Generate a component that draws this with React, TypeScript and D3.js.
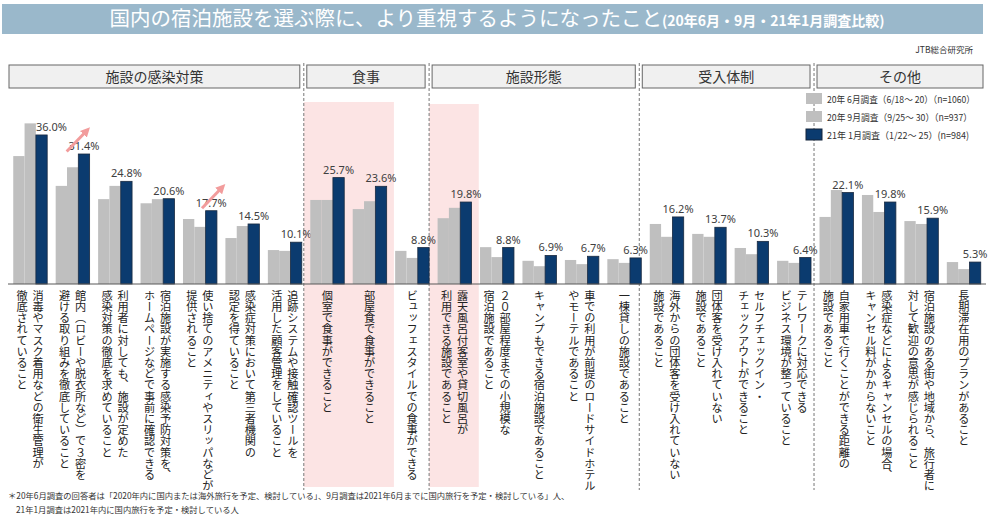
import * as d3 from "d3";

// 23 items, each label split into its vertical columns (right to left)
const categories: string[][] = [
  ["消毒やマスク着用などの衛生管理が", "徹底されていること"],
  ["館内（ロビーや脱衣所など）で３密を", "避ける取り組みを徹底していること"],
  ["利用者に対しても、施設が定めた", "感染対策の徹底を求めていること"],
  ["宿泊施設が実施する感染予防対策を、", "ホームページなどで事前に確認できる"],
  ["使い捨てのアメニティやスリッパなどが", "提供されること"],
  ["感染症対策において第三者機関の", "認定を得ていること"],
  ["追跡システムや接触確認ツールを", "活用した顧客管理をしていること"],
  ["個室で食事ができること"],
  ["部屋食で食事ができること"],
  ["ビュッフェスタイルでの食事ができる"],
  ["露天風呂付客室や貸切風呂が", "利用できる施設であること"],
  ["２０部屋程度までの小規模な", "宿泊施設であること"],
  ["キャンプもできる宿泊施設であること"],
  ["車での利用が前提のロードサイドホテル", "やモーテルであること"],
  ["一棟貸しの施設であること"],
  ["海外からの団体客を受け入れていない", "施設であること"],
  ["団体客を受け入れていない", "施設であること"],
  ["セルフチェックイン・", "チェックアウトができること"],
  ["テレワークに対応できる", "ビジネス環境が整っていること"],
  ["自家用車で行くことができる距離の", "施設であること"],
  ["感染症などによるキャンセルの場合、", "キャンセル料がかからないこと"],
  ["宿泊施設のある街や地域から、旅行者に", "対して歓迎の意思が感じられること"],
  ["長期滞在用のプランがあること"],
];

const sections = ["施設の感染対策", "食事", "施設形態", "受入体制", "その他"];
const sectionSizes = [7, 3, 5, 4, 4];

const seriesNames = [
  "20年 6月調査（6/18～ 20）（n=1060）",
  "20年 9月調査（9/25～ 30）（n=937）",
  "21年 1月調査（1/22～ 25）(n=984)",
];
const june20 = [30.9, 23.7, 20.5, 19.5, 15.7, 11.1, 8.2, 20.3, 18.1, 8.0, 15.9, 8.9, 5.6, 5.8, 6.0, 14.5, 12.1, 8.7, 5.6, 16.2, 21.5, 15.2, 5.3];
const sep20 = [38.8, 28.2, 23.7, 20.5, 13.8, 14.0, 8.0, 20.3, 20.0, 6.3, 18.4, 6.5, 4.3, 4.8, 5.1, 11.4, 11.4, 7.2, 5.1, 22.7, 17.4, 14.5, 3.6];
const jan21 = [36.0, 31.4, 24.8, 20.6, 17.7, 14.5, 10.1, 25.7, 23.6, 8.8, 19.8, 8.8, 6.9, 6.7, 6.3, 16.2, 13.7, 10.3, 6.4, 22.1, 19.8, 15.9, 5.3];
const seriesColors = ["#BFBFBF", "#BFBFBF", "#0B3B6F"];

// highlighted (pink) item ranges and arrow annotations
const pinkRanges = [[7, 8], [10, 10]];
const arrowItems = [1, 4];

const FONT = "'Noto Sans CJK JP', 'Noto Sans', sans-serif";

export default function App() {
  const width = 994;
  const height = 521;
  const baseY = 284;

  const series = [june20, sep20, jan21];
  const idx = categories.map((_, i) => i);

  // groups of bars
  const x = d3
    .scaleBand<number>()
    .domain(idx)
    .range([9, 985])
    .paddingInner(0.2)
    .paddingOuter(0.1);

  const xInner = d3
    .scaleBand<number>()
    .domain([0, 1, 2])
    .range([0, x.bandwidth()]);

  const y = d3.scaleLinear().domain([0, 40]).range([baseY, baseY - 165.6]);

  const groupEnd = (i: number) => (x(i) as number) + x.bandwidth();

  // section dividers, placed just after the last group of each section
  const cum = d3.cumsum(sectionSizes);
  const dividers = Array.from(cum).slice(0, -1).map((c, k) => groupEnd(c - 1) + [2, 0, -2, 3][k]);
  const bounds = [9, ...dividers, 983];

  const legendWidths = [148, 145, 142];

  return (
    <svg
      width={width}
      height={height}
      style={{ position: "absolute", left: 0, top: 0, background: "#fff" }}
      fontFamily={FONT}
    >
      <defs>
        <marker id="ah" viewBox="0 0 10 10" refX="5" refY="5" markerWidth="3.2" markerHeight="3.2" orient="auto">
          <path d="M0,0 L10,5 L0,10 z" fill="#F29C9C" />
        </marker>
      </defs>

      {/* title bar */}
      <rect x={2} y={4} width={981} height={30} fill="#9AB8CB" />
      <text x={497} y={26} textAnchor="middle" fill="#fff" fontSize={20.5}>
        国内の宿泊施設を選ぶ際に、より重視するようになったこと
        <tspan fontSize={14} fontWeight="bold">(20年6月・9月・21年1月調査比較)</tspan>
      </text>
      <text x={973} y={53} textAnchor="end" fontSize={8.5} fill="#333">JTB総合研究所</text>

      {/* pink highlight bands */}
      {pinkRanges.map(([a, b], k) => {
        const left = dividers[k === 0 ? 0 : 1];
        const top = k === 0 ? 102 : 104;
        return (
          <rect
            key={k}
            x={left}
            y={top}
            width={(groupEnd(b) + (x(b + 1) as number)) / 2 + 3 - left}
            height={487 - top}
            fill="#FCE4E4"
          />
        );
      })}

      {/* dashed section dividers */}
      {dividers.map((d, k) => (
        <line key={k} x1={d} x2={d} y1={63} y2={490} stroke="#777" strokeDasharray="3,2" strokeWidth={1} />
      ))}

      {/* section headers */}
      {sections.map((s, k) => {
        const x0 = k === 0 ? bounds[0] : bounds[k] + 3;
        const x1 = k === sections.length - 1 ? bounds[k + 1] : bounds[k + 1] - 4;
        return (
          <g key={s}>
            <rect x={x0} y={65} width={x1 - x0} height={23} fill="#F0F0F0" stroke="#666" strokeWidth={1} />
            <text x={(x0 + x1) / 2} y={81.5} textAnchor="middle" fontSize={14} fill="#333">{s}</text>
          </g>
        );
      })}

      {/* legend */}
      {seriesNames.map((n, k) => (
        <g key={n} transform={`translate(806, ${93 + k * 18})`}>
          <rect width={16} height={11} fill={seriesColors[k]} stroke={k === 2 ? "#15243A" : "none"} />
          <text
            x={21}
            y={9.5}
            fontSize={9.6}
            fill="#333"
            textLength={legendWidths[k]}
            lengthAdjust="spacingAndGlyphs"
          >
            {n}
          </text>
        </g>
      ))}

      {/* bars */}
      {idx.map((i) => (
        <g key={i} transform={`translate(${x(i)},0)`}>
          {series.map((vals, s) => (
            <rect
              key={s}
              x={xInner(s)}
              y={y(vals[i])}
              width={xInner.bandwidth()}
              height={baseY - y(vals[i])}
              fill={seriesColors[s]}
              stroke={s === 2 ? "#1A2A40" : "none"}
              strokeWidth={0.8}
            />
          ))}
          <text
            x={(xInner(2) as number) + xInner.bandwidth() / 2 + (i === 0 ? 10 : 0)}
            y={y(jan21[i]) - 4}
            textAnchor="middle"
            fontSize={11}
            fill="#404040"
            fontFamily="'Noto Sans', sans-serif"
          >
            {jan21[i].toFixed(1)}%
          </text>
        </g>
      ))}

      {/* baseline */}
      <line x1={8} x2={986} y1={baseY} y2={baseY} stroke="#595959" strokeWidth={1} />

      {/* arrows */}
      {arrowItems.map((i) => {
        const x0 = x(i) as number;
        const v = jan21[i];
        return (
          <line
            key={i}
            x1={x0 + (i === 1 ? 11 : 19)}
            y1={y(v + 0.6)}
            x2={x0 + (i === 1 ? 31 : 39)}
            y2={y(v + 5.6)}
            stroke="#F29C9C"
            strokeWidth={3}
            markerEnd="url(#ah)"
          />
        );
      })}

      {/* vertical category labels */}
      {categories.map((lines, i) => {
        const cx = (x(i) as number) + x.bandwidth() / 2;
        const gap = 16;
        return lines.map((ln, j) => (
          <text
            key={`${i}-${j}`}
            x={cx + ((lines.length - 1) / 2 - j) * gap}
            y={290}
            fontSize={11.2}
            fill="#222"
            style={{ writingMode: "vertical-rl" }}
          >
            {ln}
          </text>
        ));
      })}

      {/* footnote */}
      <text x={8} y={499} fontSize={8.3} fill="#333">
        ＊20年6月調査の回答者は「2020年内に国内または海外旅行を予定、検討している」、9月調査は2021年6月までに国内旅行を予定・検討している」人、
      </text>
      <text x={16} y={513} fontSize={8.3} fill="#333">
        21年1月調査は2021年内に国内旅行を予定・検討している人
      </text>
    </svg>
  );
}
